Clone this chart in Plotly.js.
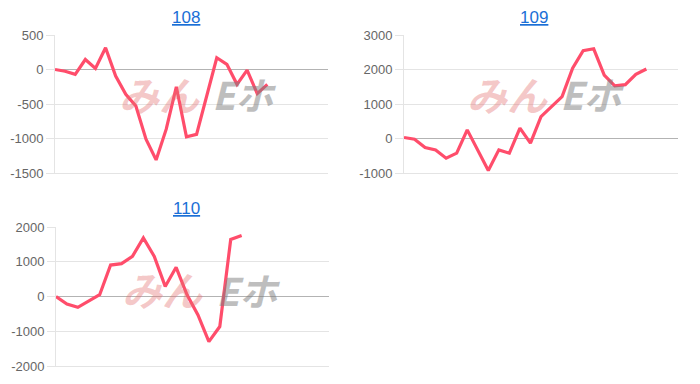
<!DOCTYPE html>
<html>
<head>
<meta charset="utf-8">
<script src="https://cdn.plot.ly/plotly-3.0.1.min.js"></script>
<style>html,body{margin:0;padding:0;background:#fff}#chart{width:700px;height:384px}</style>
</head>
<body>
<div id="chart"></div>
<script>
// chart titles (machine numbers)
const titles = ["108", "109", "110"];
// number of x slots on each chart
const slots108 = 28;
const slots109 = 27;
const slots110 = 26;
// series values
const values108 = [0, -25, -70, 145, 15, 315, -95, -360, -530, -1010, -1310, -865, -250, -975, -940, -385, 170, 75, -215, -10, -350, -215];
const values109 = [30, -20, -260, -330, -570, -425, 250, -330, -925, -330, -425, 300, -135, 635, 925, 1215, 2035, 2545, 2600, 1840, 1525, 1560, 1860, 2015];
const values110 = [0, -220, -310, -125, 50, 905, 945, 1155, 1685, 1155, 290, 840, 50, -530, -1300, -865, 1640, 1755];
// y tick values
const ticks108 = [500, 0, -500, -1000, -1500];
const ticks109 = [3000, 2000, 1000, 0, -1000];
const ticks110 = [2000, 1000, 0, -1000, -2000];

const lineColor = '#ff4d6b';
function trace(vals, xa, ya) {
  return {
    x: vals.map((v, i) => i), y: vals, xaxis: xa, yaxis: ya,
    type: 'scatter', mode: 'lines',
    line: {color: lineColor, width: 3.2, shape: 'linear'},
    hoverinfo: 'skip'
  };
}
const data = [
  trace(values108, 'x', 'y'),
  trace(values109, 'x2', 'y2'),
  trace(values110, 'x3', 'y3')
];

function xax(dom, n, anchor) {
  return {domain: dom, range: [0, n - 1], anchor: anchor, showgrid: false, zeroline: false,
    showticklabels: false, showline: true, linecolor: '#e4e4e4', linewidth: 1, ticks: '', fixedrange: true};
}
function yax(dom, tv, anchor) {
  return {domain: dom, range: [tv[tv.length - 1], tv[0]], anchor: anchor, tickvals: tv,
    ticktext: tv.map(String), showgrid: true, gridcolor: '#e4e4e4', gridwidth: 1,
    zeroline: true, zerolinecolor: '#b3b3b3', zerolinewidth: 1,
    showline: true, linecolor: '#e4e4e4', linewidth: 1,
    ticks: 'outside', ticklen: 8, tickcolor: '#e4e4e4',
    tickfont: {family: 'Liberation Sans, Arial, sans-serif', size: 13, color: '#666'}, fixedrange: true};
}

const topY = [1 - 173 / 384, 1 - 35 / 384];
const botY = [1 - 366 / 384, 1 - 227 / 384];
const dom1 = [55 / 700, 328 / 700];
const dom2 = [404 / 700, 678 / 700];
const dom3 = [56 / 700, 329 / 700];

function titleAnn(text, xc, ypx) {
  return {text: '<u>' + text + '</u>', xref: 'paper', yref: 'paper', x: xc, y: 1 - ypx / 384,
    xanchor: 'center', yanchor: 'middle', showarrow: false,
    font: {family: 'Liberation Sans, Arial, sans-serif', size: 17, color: '#1b6fd6'}};
}
function mark(xcPink, xcGray, ycen) {
  return [
    {text: '<i><b>みん</b></i>', xref: 'paper', yref: 'paper', x: xcPink / 700, y: 1 - ycen / 384,
      xanchor: 'center', yanchor: 'middle', showarrow: false,
      font: {family: 'Noto Sans CJK JP', size: 40, color: 'rgba(228,110,110,0.38)'}},
    {text: '<i><b>Eホ</b></i>', xref: 'paper', yref: 'paper', x: xcGray / 700, y: 1 - ycen / 384,
      xanchor: 'center', yanchor: 'middle', showarrow: false,
      font: {family: 'Noto Sans CJK JP', size: 38, color: 'rgba(125,125,125,0.5)'}}
  ];
}

const layout = {
  width: 700, height: 384,
  margin: {l: 0, r: 0, t: 0, b: 0},
  paper_bgcolor: '#fff', plot_bgcolor: 'rgba(0,0,0,0)',
  showlegend: false,
  xaxis: xax(dom1, slots108, 'y'),
  yaxis: yax(topY, ticks108, 'x'),
  xaxis2: xax(dom2, slots109, 'y2'),
  yaxis2: yax(topY, ticks109, 'x2'),
  xaxis3: xax(dom3, slots110, 'y3'),
  yaxis3: yax(botY, ticks110, 'x3'),
  annotations: [
    titleAnn(titles[0], 186 / 700, 17),
    titleAnn(titles[1], 534 / 700, 17),
    titleAnn(titles[2], 186 / 700, 208)
  ].concat(mark(159, 244, 94))
   .concat(mark(507, 592, 94))
   .concat(mark(162, 248, 289))
};

Plotly.newPlot('chart', data, layout, {displayModeBar: false, staticPlot: true});
</script>
</body>
</html>
